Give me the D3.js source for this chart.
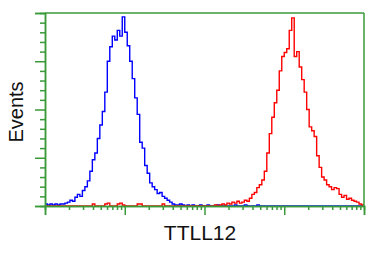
<!DOCTYPE html>
<html><head><meta charset="utf-8">
<script src="https://cdn.jsdelivr.net/npm/d3@7"></script>
<style>body{margin:0;background:#fff}svg{display:block}</style>
</head><body>
<script>
// Histogram bins: bin i spans 10^(i/32) .. 10^((i+1)/32)
const binsPerDecade = 32;
const blueCounts = [2,1,2,1,2,1,2,2,3,4, 6,5,9,12,10,16,20,26,36,48, 55,70,84,98,118,150,165,176,172,182, 176,196,180,166,150,132,112,95,66,60, 42,34,24,20,17,13,14,10,8,6, 4,2,1,1,2,1,0,1,0,1, 0,0,1,0,0,1,0,0,0,1, 0,0,0,0,0,0,1,0,0,0, 1,0,0,0,0,1,0,0,0,0, 0,0,0,0,0,0,0,0,0,0, 0,0,0,0,0,0,0,0,0,0, 0,0,0,0,0,0,0,0,0,0, 0,0,0,0,0,0,0,0];
const redCounts = [0,0,0,0,0,0,0,0,0,0, 0,0,0,0,0,0,0,0,0,2, 0,0,0,0,2,3,0,0,0,2, 3,1,0,0,0,0,0,2,2,0, 0,0,0,0,0,0,0,2,0,0, 0,0,0,0,0,0,0,0,0,0, 0,0,0,0,0,0,0,0,1,0, 1,2,1,3,2,4,3,5,3,4, 6,5,8,12,14,19,22,27,36,55, 75,92,107,120,140,155,159,163,182,195, 155,160,144,131,118,100,82,78,72,52, 40,30,27,22,20,17,19,18,12,9, 11,7,8,6,5,4,2,1];
const yMajorTicks = [0,50,100,150,200];
const xDecades = [1,10,100,1000,10000];
const xLabel = "TTLL12";
const yLabel = "Events";

const W = 385, H = 255;
const m = {l:45, t:13, r:364, b:206};
const green = "#3a9a3a";

const svg = d3.select("body").append("svg").attr("width",W).attr("height",H);
const x = d3.scaleLog().domain([1,10000]).range([m.l,m.r]);
const y = d3.scaleLinear().domain([0,200]).range([m.b,m.t]);

function pts(counts){
  const p = [];
  counts.forEach((c,i)=>{ p.push([Math.pow(10,i/binsPerDecade), c]); });
  p.push([Math.pow(10,counts.length/binsPerDecade), counts[counts.length-1]]);
  return p;
}
const line = d3.line().x(d=>x(d[0])).y(d=>y(d[1])).curve(d3.curveStepAfter);

svg.append("path").datum(pts(blueCounts)).attr("d",line)
  .attr("fill","none").attr("stroke","#0000ff").attr("stroke-width",1.4);
svg.append("path").datum(pts(redCounts)).attr("d",line)
  .attr("fill","none").attr("stroke","#ff0000").attr("stroke-width",1.4);

// frame
const g = svg.append("g").attr("stroke",green).attr("stroke-width",1.5).attr("fill","none");
g.append("line").attr("x1",m.l).attr("x2",m.r).attr("y1",m.t).attr("y2",m.t);
g.append("line").attr("x1",m.r).attr("x2",m.r).attr("y1",m.t).attr("y2",m.b);

// y axis
const yMinor = d3.range(0,201,10).filter(v=>!yMajorTicks.includes(v));
const yAxisMaj = d3.axisLeft(y).tickValues(yMajorTicks).tickSize(10).tickFormat("");
const yAxisMin = d3.axisLeft(y).tickValues(yMinor).tickSize(5).tickFormat("");
[yAxisMaj,yAxisMin].forEach(a=>{
  const ga = svg.append("g").attr("transform",`translate(${m.l},0)`).call(a);
  ga.selectAll("line,path").attr("stroke",green).attr("stroke-width",1.5);
});
// x axis
const xMinor = [];
xDecades.slice(0,-1).forEach(d=>{ for(let k=2;k<10;k++) xMinor.push(d*k); });
const xAxisMaj = d3.axisBottom(x).tickValues(xDecades).tickSize(9).tickFormat("");
const xAxisMin = d3.axisBottom(x).tickValues(xMinor).tickSize(4).tickFormat("");
[xAxisMaj,xAxisMin].forEach(a=>{
  const ga = svg.append("g").attr("transform",`translate(0,${m.b})`).call(a);
  ga.selectAll("line,path").attr("stroke",green).attr("stroke-width",1.5);
});
svg.selectAll(".domain").attr("stroke",green);

svg.append("text").attr("x",200).attr("y",240).attr("text-anchor","middle")
  .attr("font-family","Liberation Sans, Arial, sans-serif").attr("font-size",21).attr("fill","#111")
  .text(xLabel);
svg.append("text").attr("transform","translate(23,112) rotate(-90)").attr("text-anchor","middle")
  .attr("font-family","Liberation Sans, Arial, sans-serif").attr("font-size",20).attr("fill","#111")
  .text(yLabel);
</script>
</body></html>
